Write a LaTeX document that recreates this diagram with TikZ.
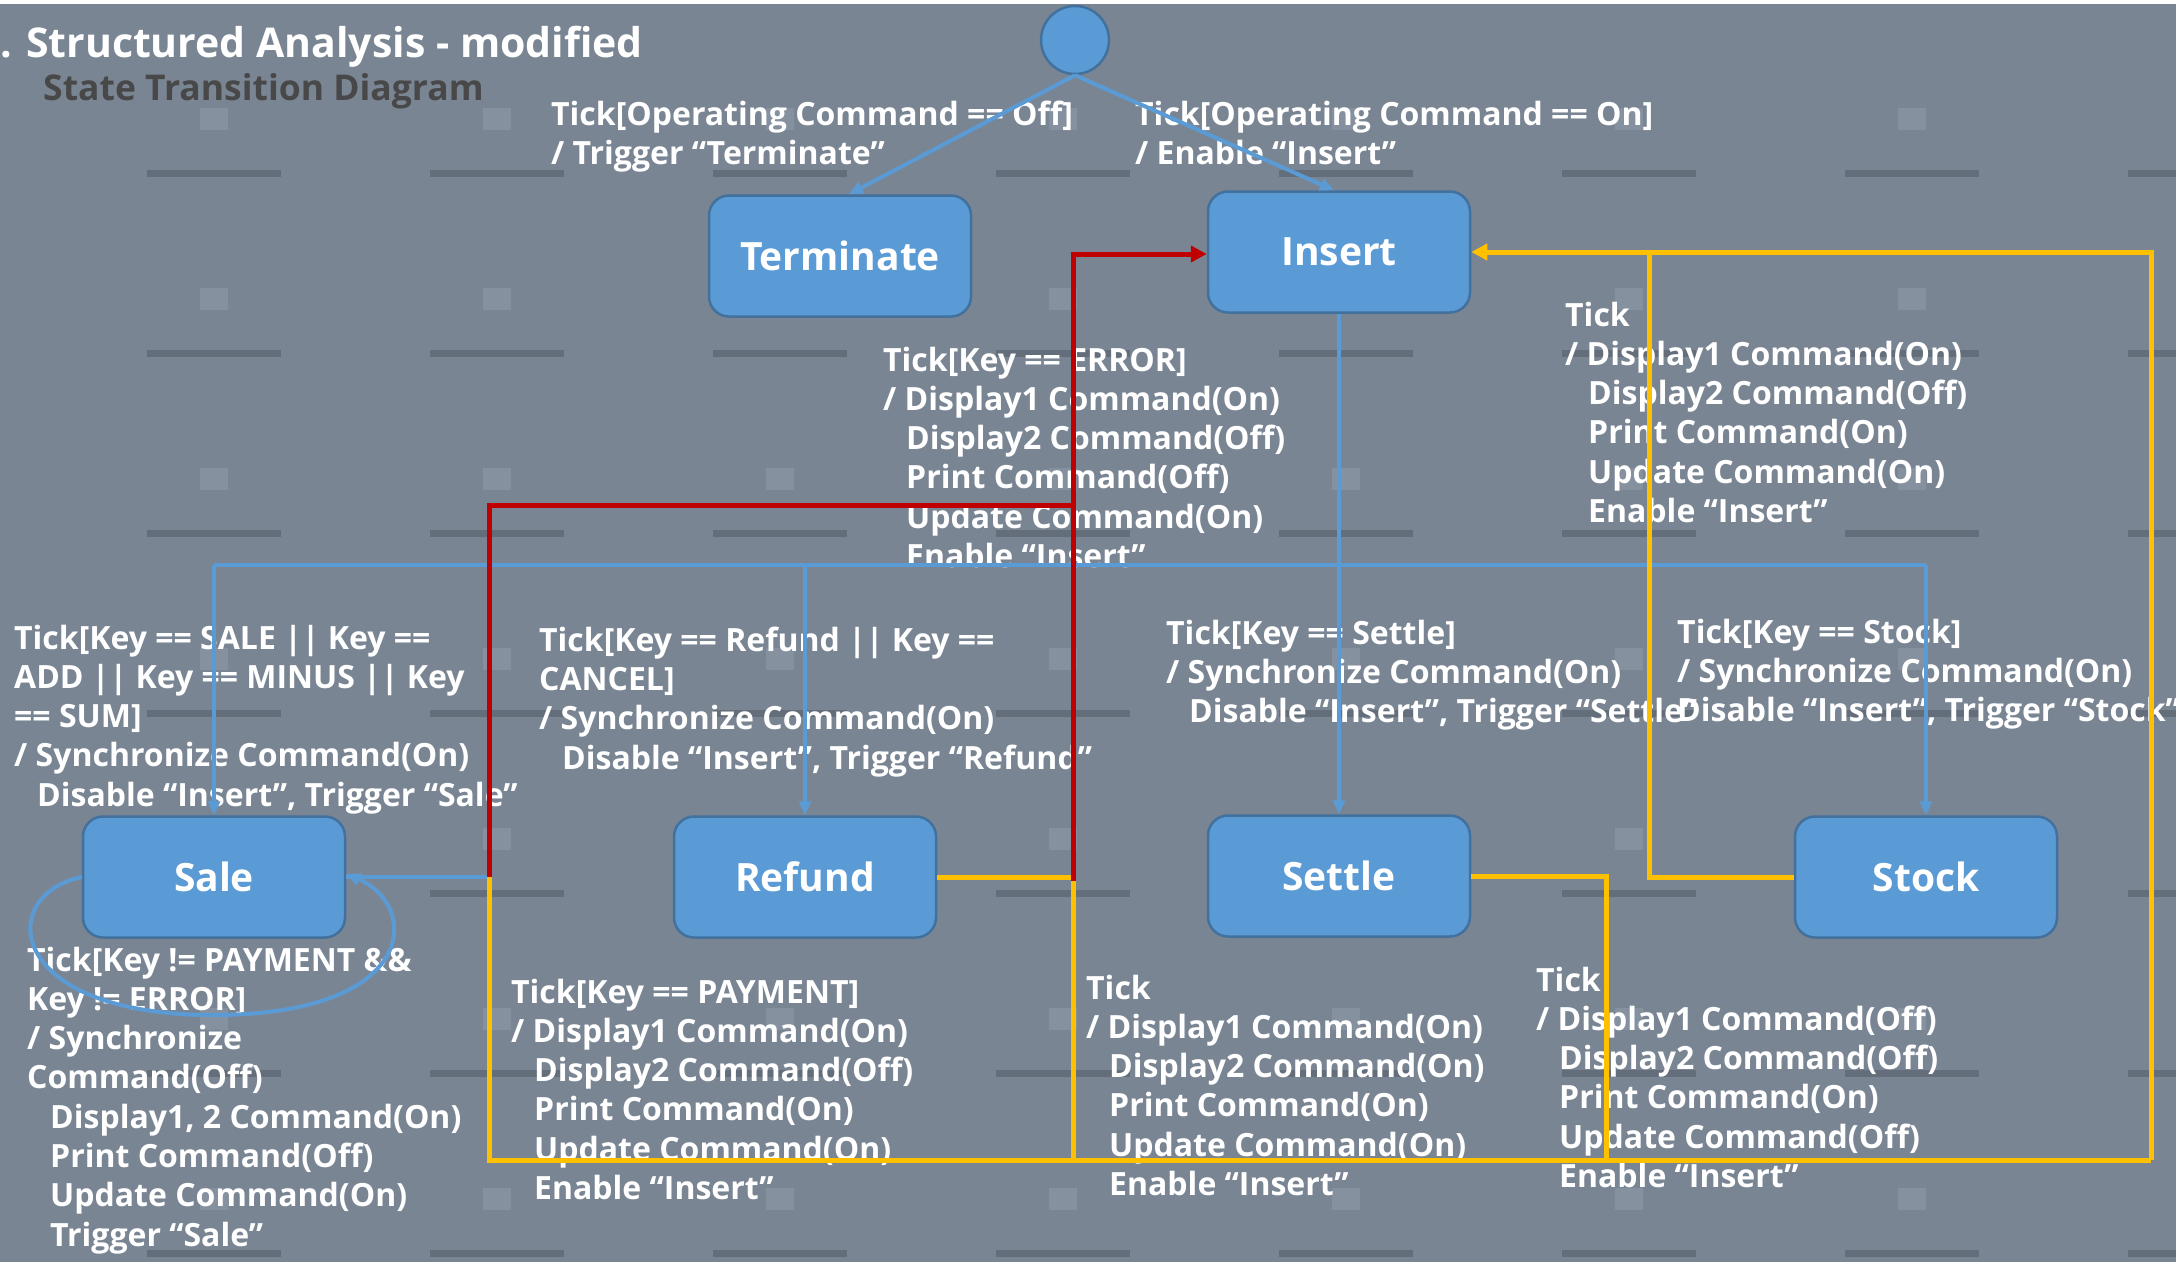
\documentclass[tikz,border=0pt]{standalone}
\usepackage{fontspec}
\setmainfont{Open Sans}
\usetikzlibrary{arrows.meta}
\definecolor{bg}{RGB}{122,133,148}
\definecolor{handle}{RGB}{100,109,122}
\definecolor{holder}{RGB}{134,145,160}
\definecolor{boxblue}{RGB}{91,155,213}
\definecolor{boxedge}{RGB}{65,113,156}
\definecolor{lred}{RGB}{192,0,0}
\definecolor{lyel}{RGB}{255,192,0}
\definecolor{subgrey}{RGB}{72,72,72}
\newcommand\myindent{\hspace*{23pt}}
\begin{document}
\begin{tikzpicture}[x=1pt,y=-1pt,
  statebox/.style={draw=boxedge, line width=2.5pt, fill=boxblue, rounded corners=20pt,
    minimum width=262pt, minimum height=121pt, text=white, inner sep=0pt,
    font=\fontsize{39}{46}\selectfont\bfseries},
  lbl/.style={anchor=north west, align=left, text=white, inner sep=0pt,
    font=\fontsize{32}{39.3}\selectfont\bfseries, execute at begin node=\strut},
  blueline/.style={draw=boxblue, line width=4pt},
  bluearr/.style={blueline, -{Triangle[length=14pt,width=12pt]}},
  redline/.style={draw=lred, line width=5pt},
  yelline/.style={draw=lyel, line width=5pt},
  bigarr/.style={-{Triangle[length=16pt,width=16pt]}}
]
\useasboundingbox (0,0) rectangle (2176,1262);
% background
\fill[bg] (0,0) rectangle (2176,1262);
\foreach \i in {0,...,7} {
  \foreach \j in {0,...,6} {
    \fill[handle] (147+283*\i,170+180*\j) rectangle ++(134,7);
    \fill[holder] (200+283*\i,108+180*\j) rectangle ++(28,22);
  }
}
\fill[white] (0,0) rectangle (2176,4);

% title
\node[anchor=base west, inner sep=0pt, text=white, font=\fontsize{41}{48}\selectfont\bfseries] (title) at (0,57) {. Structured Analysis - modified};
\node[anchor=base west, inner sep=0pt, text=subgrey, font=\fontsize{35.5}{40}\selectfont\bfseries] (subtitle) at (43,100) {State Transition Diagram};

% states
\node[circle, fill=boxblue, draw=boxedge, line width=2.5pt, minimum size=68pt, inner sep=0pt] (init) at (1075,40) {};
\node[statebox] (term) at (840,256) {Terminate};
\node[statebox] (ins) at (1339,252) {Insert};
\node[statebox] (sale) at (214,877) {Sale};
\node[statebox] (refund) at (805,877) {Refund};
\node[statebox] (settle) at (1339,876) {Settle};
\node[statebox] (stock) at (1926,877) {Stock};

% labels
\node[lbl] (l1) at (551,100.5) {Tick[Operating Command == Off]\\/ Trigger “Terminate”};
\node[lbl] (l2) at (1135,100.5) {Tick[Operating Command == On]\\/ Enable “Insert”};
\node[lbl] (l3) at (883,346.5) {Tick[Key == ERROR]\\/ Display1 Command(On)\\\myindent Display2 Command(Off)\\\myindent Print Command(Off)\\\myindent Update Command(On)\\\myindent Enable “Insert”};
\node[lbl] (l4) at (1565,301.5) {Tick\\/ Display1 Command(On)\\\myindent Display2 Command(Off)\\\myindent Print Command(On)\\\myindent Update Command(On)\\\myindent Enable “Insert”};
\node[lbl] (l5) at (14,624.5) {Tick[Key == SALE || Key ==\\ADD || Key == MINUS || Key\\== SUM]\\/ Synchronize Command(On)\\\myindent Disable “Insert”, Trigger “Sale”};
\node[lbl] (l6) at (539,626.5) {Tick[Key == Refund || Key ==\\CANCEL]\\/ Synchronize Command(On)\\\myindent Disable “Insert”, Trigger “Refund”};
\node[lbl] (l7) at (1166,619.5) {Tick[Key == Settle]\\/ Synchronize Command(On)\\\myindent Disable “Insert”, Trigger “Settle”};
\node[lbl] (l8) at (1677,618.5) {Tick[Key == Stock]\\/ Synchronize Command(On)\\Disable “Insert”, Trigger “Stock”};
\node[lbl] (l9) at (27,946.5) {Tick[Key != PAYMENT \&\&\\Key != ERROR]\\/ Synchronize\\Command(Off)\\\myindent Display1, 2 Command(On)\\\myindent Print Command(Off)\\\myindent Update Command(On)\\\myindent Trigger “Sale”};
\node[lbl] (l10) at (511,978.5) {Tick[Key == PAYMENT]\\/ Display1 Command(On)\\\myindent Display2 Command(Off)\\\myindent Print Command(On)\\\myindent Update Command(On)\\\myindent Enable “Insert”};
\node[lbl] (l11) at (1086,974.5) {Tick\\/ Display1 Command(On)\\\myindent Display2 Command(On)\\\myindent Print Command(On)\\\myindent Update Command(On)\\\myindent Enable “Insert”};
\node[lbl] (l12) at (1536,966.5) {Tick\\/ Display1 Command(Off)\\\myindent Display2 Command(Off)\\\myindent Print Command(On)\\\myindent Update Command(Off)\\\myindent Enable “Insert”};

% junction coordinates
\coordinate (j) at (1339,565);
\coordinate (r1) at (489,877);
\coordinate (r3) at (1073,505);
\coordinate (r4) at (1073,877);
\coordinate (yR) at (1073,1160);
\coordinate (yB) at (2151,1160);
\coordinate (yS) at (1606,1160);
\coordinate (yT) at (1649,253);

% blue transitions
\draw[bluearr] (init.south) -- ([xshift=9pt]term.north);
\draw[bluearr] (init.south) -- ([xshift=-5pt]ins.north);
\draw[bluearr] (ins.south) -- (settle.north);
\draw[blueline] (sale.north |- j) -- (stock.north |- j);
\draw[bluearr] (sale.north |- j) -- (sale.north);
\draw[bluearr] (refund.north |- j) -- (refund.north);
\draw[bluearr] (stock.north |- j) -- (stock.north);
\draw[blueline] (sale.east) -- (r1);
\draw[bluearr] (sale.west) .. controls (-5,895) and (5,1015) .. (213,1015)
  .. controls (420,1015) and (420,905) .. ([yshift=3pt]sale.east);

% yellow transitions
\draw[yelline] (refund.east) -- (r4) -- (yR);
\draw[yelline] (r1) |- (yB);
\draw[yelline, bigarr] (yB) |- (ins.east);
\draw[yelline] (settle.east) -| (yS);
\draw[yelline] (stock.west) -| (yT);

% red transitions
\draw[redline] (r1) |- (r3);
\draw[redline, bigarr] ([yshift=-4pt]r4) |- ([yshift=-2pt]ins.west);
\end{tikzpicture}
\end{document}
